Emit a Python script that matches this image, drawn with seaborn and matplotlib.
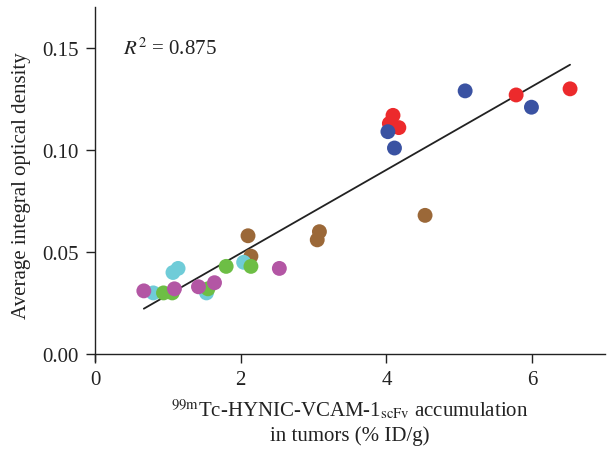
import matplotlib
matplotlib.use("Agg")
import matplotlib.pyplot as plt
import seaborn as sns
import pandas as pd
import numpy as np

# Tumour uptake (%ID/g) vs. average integral optical density, per group
red_x = [4.09, 4.17, 4.04, 5.78, 6.52]
red_y = [0.117, 0.111, 0.113, 0.127, 0.130]
blue_x = [5.08, 5.99, 4.02, 4.11]
blue_y = [0.129, 0.121, 0.109, 0.101]
brown_x = [4.53, 3.08, 3.05, 2.10, 2.14]
brown_y = [0.068, 0.060, 0.056, 0.058, 0.048]
cyan_x = [2.04, 1.07, 1.14, 0.80, 1.53]
cyan_y = [0.045, 0.040, 0.042, 0.030, 0.030]
green_x = [1.80, 2.14, 0.94, 1.06, 1.55]
green_y = [0.043, 0.043, 0.030, 0.030, 0.032]
magenta_x = [0.67, 1.09, 1.42, 1.64, 2.53]
magenta_y = [0.031, 0.032, 0.033, 0.035, 0.042]

groups = ["red", "blue", "brown", "cyan", "green", "magenta"]
palette = {
    "red": "#EC2A2C",
    "blue": "#3A52A2",
    "brown": "#9B6838",
    "cyan": "#6FCCD8",
    "green": "#6DBE45",
    "magenta": "#B356A4",
}
xs = [red_x, blue_x, brown_x, cyan_x, green_x, magenta_x]
ys = [red_y, blue_y, brown_y, cyan_y, green_y, magenta_y]

frames = [pd.DataFrame({"x": gx, "y": gy, "group": g}) for g, gx, gy in zip(groups, xs, ys)]
df = pd.concat(frames, ignore_index=True)

sns.set_style("ticks")
plt.rcParams["font.family"] = ["Liberation Serif", "DejaVu Serif"]
plt.rcParams["mathtext.fontset"] = "stix"

fig = plt.figure(figsize=(6.13, 4.56), dpi=100)
ax = fig.add_axes([0.155, 0.206, 0.832, 0.776])

sns.regplot(data=df, x="x", y="y", scatter=False, ci=None, ax=ax,
            line_kws={"color": "#222222", "lw": 1.3})
sns.scatterplot(data=df, x="x", y="y", hue="group", palette=palette,
                s=115, edgecolor="none", linewidth=0, legend=False, ax=ax, zorder=3)

ax.set_xlim(0, 7)
ax.set_ylim(-0.0034, 0.170)
ax.spines["bottom"].set_position(("data", 0))
ax.spines["top"].set_visible(False)
ax.spines["right"].set_visible(False)
for s in ("left", "bottom"):
    ax.spines[s].set_linewidth(1.0)
    ax.spines[s].set_color("#222222")

ax.set_xticks([0, 2, 4, 6])
ax.set_xticklabels(["0", "2", "4", "6"])
ax.set_yticks([0.0, 0.05, 0.10, 0.15])
ax.set_yticklabels(["0.00", "0.05", "0.10", "0.15"])
ax.tick_params(axis="both", labelsize=15, length=6.5, width=1.0, color="#222222",
               labelcolor="#222222", pad=5)

ax.set_xlabel(r"$^{99\mathrm{m}}$Tc-HYNIC-VCAM-1$_{\mathrm{scFv}}$ accumulation" + "\nin tumors (% ID/g)",
              fontsize=15, color="#222222", labelpad=6, linespacing=1.25)
ax.set_ylabel("Average integral optical density", fontsize=15, color="#222222", labelpad=8)

ax.text(0.38, 0.150, r"$R^2$ = 0.875", fontsize=15, color="#222222", va="center")

fig.savefig("out.png", dpi=100)
